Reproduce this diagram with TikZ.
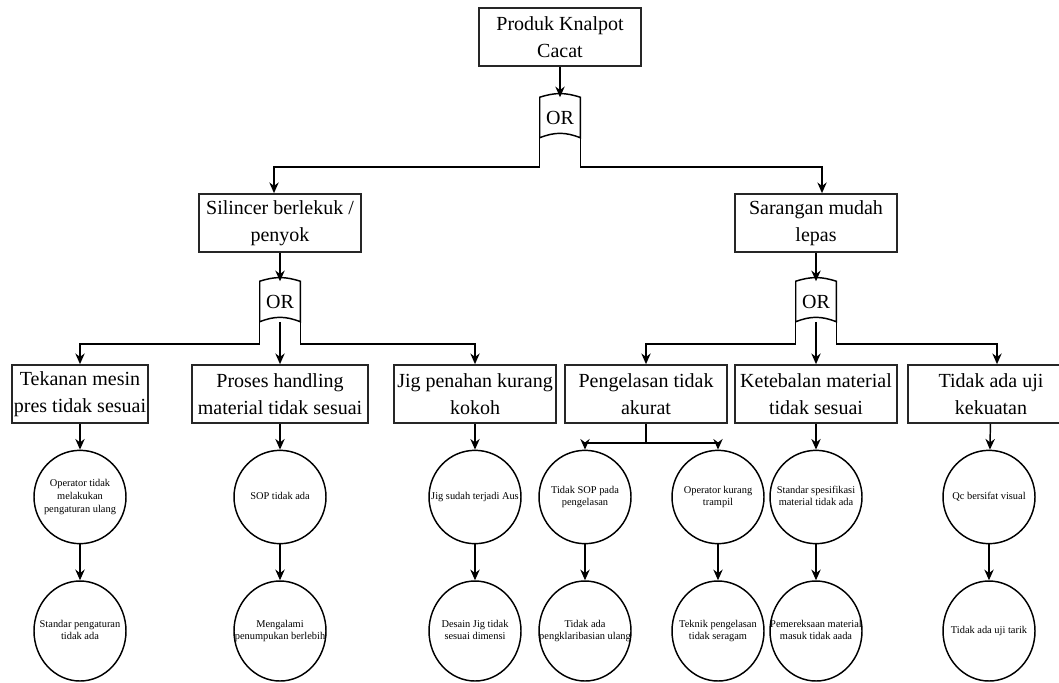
\documentclass[tikz,border=0pt]{standalone}
\usepackage{fontspec}
\setmainfont{Liberation Serif}
\usetikzlibrary{arrows.meta,positioning,shapes.geometric}

% outline of an OR gate drawn round a named node
\newcommand{\orgateshape}[1]{%
  \draw[line] (#1.north west) to[bend left=18] (#1.north east) -- (#1.south east) to[bend right=22] (#1.south west) -- cycle;}
% text in a circle that may run over its edge, as in the original
\newcommand{\circtext}[1]{\makebox[0pt]{\begin{tabular}{@{}c@{}}#1\end{tabular}}}

\begin{document}
\begin{tikzpicture}[x=0.75pt, y=-0.75pt, >={Stealth[length=8pt,width=7pt]}, align=center]

    % Styles
    \tikzstyle{event} = [rectangle, draw=black!85, line width=1.3pt, inner sep=1pt, minimum width=122pt, minimum height=43.5pt, font=\fontsize{15}{20}\selectfont]
    \tikzstyle{cause} = [ellipse, draw, line width=1.1pt, minimum width=69pt, minimum height=70pt, inner sep=0pt, font=\fontsize{7.8}{9.5}\selectfont]
    \tikzstyle{lowcause} = [cause, minimum height=75pt]
    \tikzstyle{orgate} = [rectangle, minimum width=30pt, minimum height=30pt, inner sep=0pt, font=\fontsize{15}{18}\selectfont]
    \tikzstyle{arrow} = [->, line width=1.1pt]
    \tikzstyle{line} = [line width=1.1pt]

    \useasboundingbox (0,0) rectangle (1059,682);

    % Top event
    \node[event] (produk) at (560,37) {Produk Knalpot\\Cacat};
    \node[orgate] (gate_top) at (560,117.5) {OR};

    % Second level
    \node[event] (silincer) at (280,223) {Silincer berlekuk /\\penyok};
    \node[event] (sarangan) at (816,223) {Sarangan mudah\\lepas};
    \node[orgate] (gate_silincer) at (280,301.5) {OR};
    \node[orgate] (gate_sarangan) at (816,301.5) {OR};

    % Third level
    \node[event, minimum width=102pt] (tekanan) at (80,394) {Tekanan mesin\\pres tidak sesuai};
    \node[event, minimum width=132pt] (proses) at (280,394) {Proses handling\\material tidak sesuai};
    \node[event] (jig) at (475,394) {Jig penahan kurang\\kokoh};
    \node[event] (pengelasan) at (646,394) {Pengelasan tidak\\akurat};
    \node[event] (ketebalan) at (816,394) {Ketebalan material\\tidak sesuai};
    \node[event, minimum width=124.5pt] (tidak_uji) at (991,394) {Tidak ada uji\\kekuatan};

    % Basic causes
    \node[cause] (operator_ulang) at (80,497) {\circtext{Operator tidak\\melakukan\\pengaturan ulang}};
    \node[lowcause] (standar_atur) at (80,631) {\circtext{Standar pengaturan\\tidak ada}};
    \node[cause] (sop) at (280,497) {\circtext{SOP tidak ada}};
    \node[lowcause] (penumpukan) at (280,631) {\circtext{Mengalami\\penumpukan berlebih}};
    \node[cause] (aus) at (475,497) {\circtext{Jig sudah terjadi Aus}};
    \node[lowcause] (desain) at (475,631) {\circtext{Desain Jig tidak\\sesuai dimensi}};
    \node[cause] (sop_las) at (585,497) {\circtext{Tidak SOP pada\\pengelasan}};
    \node[lowcause] (klarifikasi) at (585,631) {\circtext{Tidak ada\\pengklaribasian ulang}};
    \node[cause] (trampil) at (718,497) {\circtext{Operator kurang\\trampil}};
    \node[lowcause] (teknik) at (718,631) {\circtext{Teknik pengelasan\\tidak seragam}};
    \node[cause] (spesifikasi) at (816,497) {\circtext{Standar spesifikasi\\material tidak ada}};
    \node[lowcause] (pemeriksaan) at (816,631) {\circtext{Pemereksaan material\\masuk tidak aada}};
    \node[cause] (visual) at (989,497) {\circtext{Qc bersifat visual}};
    \node[lowcause] (uji_tarik) at (989,631) {\circtext{Tidak ada uji tarik}};

    % Gates
    \orgateshape{gate_top}
    \orgateshape{gate_silincer}
    \orgateshape{gate_sarangan}

    % Arrows
    \draw[arrow] (produk) -- (gate_top);
    \draw[arrow] (gate_top.south west) -- ++(0,29) -| ([xshift=-4.5pt]silincer.north);
    \draw[arrow] (gate_top.south east) -- ++(0,29) -| ([xshift=4.5pt]sarangan.north);

    \draw[arrow] (silincer) -- (gate_silincer);
    \draw[arrow] (gate_silincer.south west) -- ++(0,22) -| (tekanan);
    \draw[arrow] (gate_silincer.south) -- (proses);
    \draw[arrow] (gate_silincer.south east) -- ++(0,22) -| (jig);

    \draw[arrow] (sarangan) -- (gate_sarangan);
    \draw[arrow] (gate_sarangan.south west) -- ++(0,22) -| (pengelasan);
    \draw[arrow] (gate_sarangan.south) -- (ketebalan);
    \draw[arrow] (gate_sarangan.south east) -- ++(0,22) -| ([xshift=4.5pt]tidak_uji.north);

    \draw[arrow] (tekanan) -- (operator_ulang);
    \draw[arrow] (operator_ulang) -- (standar_atur);
    \draw[arrow] (proses) -- (sop);
    \draw[arrow] (sop) -- (penumpukan);
    \draw[arrow] (jig) -- (aus);
    \draw[arrow] (aus) -- (desain);

    \coordinate (las_split) at (646,443);
    \draw[line] (pengelasan) -- (las_split);
    \draw[arrow] (las_split) -| (sop_las);
    \draw[arrow] (las_split) -| (trampil);
    \draw[arrow] (sop_las) -- (klarifikasi);
    \draw[arrow] (trampil) -- (teknik);

    \draw[arrow] (ketebalan) -- (spesifikasi);
    \draw[arrow] (spesifikasi) -- (pemeriksaan);
    \draw[arrow] (tidak_uji) -- (visual);
    \draw[arrow] (visual) -- (uji_tarik);

\end{tikzpicture}
\end{document}
